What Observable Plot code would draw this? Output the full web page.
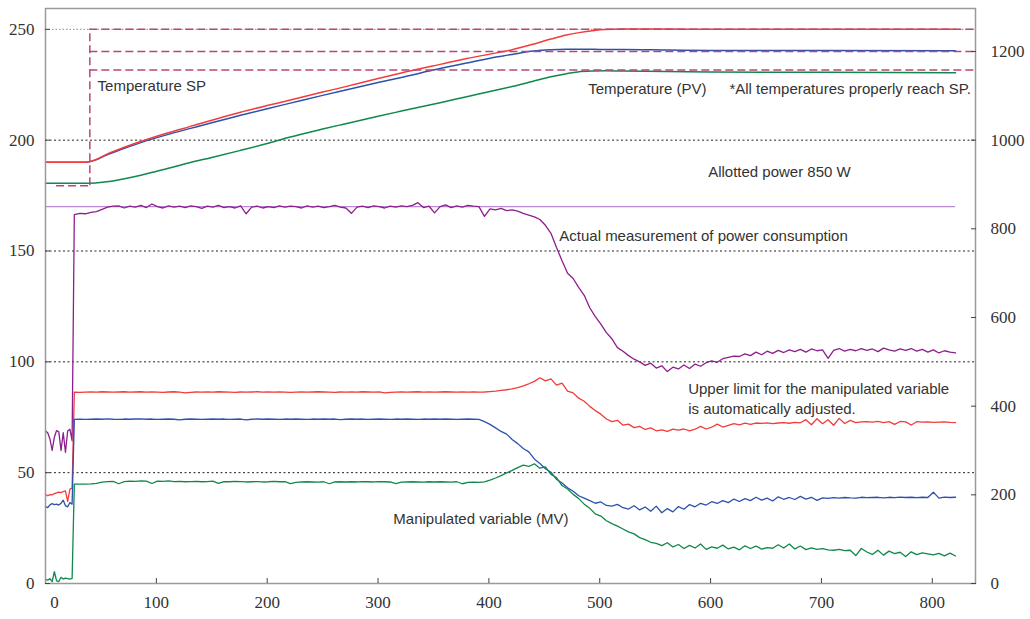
<!DOCTYPE html>
<html><head><meta charset="utf-8">
<script src="https://cdn.jsdelivr.net/npm/d3@7"></script>
<script src="https://cdn.jsdelivr.net/npm/@observablehq/plot@0.6"></script>
<style>
html,body{margin:0;padding:0;background:#fff;}
#chart svg{display:block;}
#chart svg g[aria-label*="tick label"], #chart svg g[aria-label*="tick label"] text {font-family: "Liberation Serif", "Times New Roman", serif !important; font-size: 17px !important;}
</style>
</head><body><div id="chart"></div>
<script>
// ---------- Temperature (left axis, °C) ----------
const tempTime  = [0, 35, 45, 55, 70, 86, 110, 130, 150, 176, 200, 220, 250, 267, 300, 320, 357, 380, 408, 421, 440, 456, 470, 480, 495, 505, 520, 560, 600, 700, 821];
const tempRed   = [190, 190, 191.2, 193.6, 196.6, 199.4, 203.2, 206.1, 209.0, 212.6, 215.6, 218.0, 221.7, 223.7, 227.8, 230.2, 234.3, 236.8, 239.5, 240.8, 243.3, 245.6, 247.4, 248.4, 249.5, 249.9, 250.1, 250.1, 250.0, 250.0, 250.0];
const tempBlue  = [190, 190, 191.0, 193.3, 196.1, 198.9, 202.5, 205.2, 207.9, 211.2, 214.2, 216.6, 220.2, 222.2, 226.0, 228.2, 232.4, 234.8, 237.6, 238.7, 240.2, 240.8, 241.0, 241.0, 241.0, 240.9, 240.9, 240.7, 240.5, 240.4, 240.3];
const tempGreen = [180.6, 180.6, 180.7, 181.2, 182.5, 184.2, 187.2, 189.8, 192.2, 195.4, 198.5, 201.3, 205.0, 207.0, 210.8, 213.0, 217.0, 219.6, 222.7, 224.2, 226.6, 228.6, 230.0, 230.8, 231.2, 231.3, 231.2, 231.0, 230.8, 230.6, 230.4];

// Temperature set points
const spStartTime = 10;
const spStepTime = 40;
const spEndTime = 839;
const spBefore = 179.4;             // visible pre-step SP
const spTargets = [250, 240, 231.7]; // SP after step

// ---------- Power (right axis, W) & MV (left axis, %) ----------
const allottedPower = 850;
const mvTimePre = [0, 2, 4, 6, 8, 10, 12, 14, 16, 18, 20, 22, 24];
const mvTimePost = d3.range(26, 822, 5); // 26 ... 821

const powerPre = [344, 340, 326, 300, 330, 345, 342, 300, 340, 296, 344, 348, 322];
const powerPost = [
  832, 835, 834, 837, 839, 844, 849, 851, 852, 847,
  851, 849, 853, 848, 856, 850, 847, 852, 849, 851,
  848, 852, 850, 846, 851, 849, 853, 848, 850, 847,
  852, 834, 849, 851, 847, 850, 848, 852, 849, 851,
  850, 847, 852, 849, 851, 848, 850, 853, 849, 847,
  835, 849, 851, 848, 852, 850, 847, 851, 849, 852,
  850, 853, 859, 848, 851, 836, 850, 854, 848, 852,
  849, 853, 851, 850, 828, 845, 843, 846, 841, 843,
  840, 835, 831, 827, 821, 808, 790, 758, 728, 700,
  688, 668, 650, 622, 602, 585, 566, 552, 532, 524,
  514, 506, 500, 492, 497, 486, 491, 478, 488, 484,
  493, 485, 495, 490, 498, 502, 499, 507, 510, 513,
  512, 518, 514, 522, 516, 524, 519, 526, 521, 527,
  523, 528, 522, 529, 525, 527, 508, 526, 530, 524,
  528, 525, 530, 526, 529, 523, 531, 527, 524, 529,
  526, 530, 524, 528, 522, 527, 520, 525, 522, 520
];

const mvLimitPre = [40.3, 39.6, 40.1, 40.0, 40.6, 40.9, 41.2, 41.0, 41.5, 41.8, 37.0, 42.6, 43.0];
const mvLimitPost = [
  86.3, 86.2, 86.3, 86.4, 86.3, 86.5, 86.4, 86.3, 86.4, 86.5,
  86.3, 86.4, 86.5, 86.3, 86.4, 86.3, 86.2, 86.4, 86.5, 86.3,
  86.0, 86.2, 86.4, 86.3, 86.4, 86.3, 86.5, 86.4, 86.3, 86.2,
  86.4, 86.3, 86.4, 86.5, 86.3, 86.4, 86.3, 86.4, 86.3, 86.2,
  86.3, 86.4, 86.3, 86.4, 86.5, 86.4, 86.3, 86.2, 86.4, 86.3,
  86.4, 86.3, 86.5, 86.4, 86.3, 86.4, 86.0, 86.2, 86.3, 86.4,
  86.3, 86.4, 86.5, 86.3, 86.4, 86.3, 86.4, 86.5, 86.4, 86.3,
  86.4, 86.3, 86.4, 86.3, 86.4, 86.6, 86.8, 87.1, 87.4, 87.8,
  88.4, 89.2, 90.1, 91.2, 92.8, 91.4, 92.3, 89.5, 90.4, 86.8,
  86.0, 83.6, 82.2, 79.9, 78.0, 76.4, 74.2, 73.0, 73.6, 71.4,
  71.9, 70.3, 70.9, 69.5, 70.2, 68.9, 69.3, 68.6, 69.6, 69.2,
  69.7, 68.9, 69.6, 70.9, 69.7, 70.5, 71.9, 70.6, 71.3, 72.1,
  71.6, 72.3, 71.8, 72.4, 72.2, 72.5, 72.1, 72.4, 72.6, 72.3,
  72.7, 72.5, 73.9, 71.6, 74.3, 72.1, 73.9, 71.4, 74.5, 72.2,
  73.6, 72.6, 72.9, 73.0, 72.8, 73.1, 72.6, 73.0, 71.8, 73.1,
  72.9, 71.5, 73.0, 72.8, 72.9, 72.7, 72.8, 72.9, 72.7, 72.6
];

const mvBluePre = [34.7, 34.2, 35.5, 36.0, 35.6, 35.8, 35.4, 36.2, 37.6, 35.1, 34.6, 36.5, 35.8];
const mvBluePost = [
  74.0, 74.1, 74.0, 74.1, 74.2, 74.1, 74.3, 74.1, 74.0, 74.2,
  74.1, 74.2, 74.3, 74.1, 74.2, 74.0, 74.1, 74.2, 74.1, 73.8,
  74.1, 74.2, 74.1, 74.0, 74.1, 74.2, 74.1, 74.2, 74.0, 74.1,
  74.2, 73.8, 74.1, 74.2, 74.1, 74.2, 74.1, 74.0, 74.2, 74.1,
  74.2, 74.1, 74.0, 74.2, 74.1, 74.2, 74.1, 74.2, 73.9, 74.1,
  74.2, 74.1, 74.2, 74.0, 74.1, 74.2, 74.1, 74.0, 74.2, 74.1,
  74.2, 74.1, 74.0, 74.2, 74.1, 74.2, 74.1, 74.2, 74.1, 74.0,
  74.1, 74.2, 74.1, 74.0, 73.0, 71.8, 70.2, 68.6, 67.4, 65.0,
  63.1, 60.9, 59.4, 56.2, 54.1, 51.8, 50.2, 47.0, 45.3, 43.2,
  41.6, 39.6, 38.5, 37.4, 36.2, 36.8, 35.2, 34.9, 35.7, 34.2,
  33.6, 35.1, 33.2, 34.5, 32.6, 34.9, 31.9, 33.8, 32.3, 34.7,
  33.5, 35.6, 34.6, 36.2, 35.4, 36.9, 36.1, 37.4, 36.5, 38.1,
  37.0, 38.3, 37.4, 38.9, 37.6, 38.5, 37.2, 39.1, 38.0, 38.8,
  37.9, 39.3, 38.1, 38.9, 37.5, 38.6, 38.4, 38.7, 38.5, 38.8,
  38.6, 38.5, 38.9, 38.7, 38.8, 38.9, 38.6, 38.9, 38.7, 39.0,
  38.8, 38.9, 38.7, 38.9, 38.8, 41.2, 38.5, 39.0, 38.8, 38.9
];

const mvGreenPre = [1.9, 1.5, 2.2, 0.8, 5.3, 1.2, 0.9, 2.8, 2.0, 2.4, 2.2, 2.0, 2.3];
const mvGreenPost = [
  44.8, 44.8, 44.8, 44.9, 45.2, 45.7, 46.0, 46.1, 45.0, 46.0,
  46.2, 46.1, 46.3, 46.2, 45.1, 46.2, 46.1, 46.3, 46.0, 46.1,
  45.9, 46.0, 46.1, 45.9, 46.0, 46.2, 45.2, 46.0, 45.9, 46.1,
  46.0, 45.8, 45.9, 46.0, 45.8, 45.9, 46.1, 45.9, 46.0, 45.1,
  45.6, 45.8, 45.9, 45.8, 45.7, 45.9, 45.0, 45.8, 45.9, 45.8,
  45.9, 45.8, 46.0, 45.9, 45.8, 46.0, 45.9, 45.8, 45.1, 45.7,
  45.8, 45.9, 45.8, 45.7, 45.9, 45.8, 45.9, 45.8, 45.7, 45.9,
  45.0, 45.6, 45.7, 45.6, 45.8, 46.6, 47.6, 48.7, 49.9, 51.0,
  52.3, 53.4, 52.8, 54.0, 52.0, 52.6, 49.2, 47.8, 44.2, 42.6,
  40.2, 38.3, 35.8, 33.9, 31.4, 30.4, 28.3, 27.0, 25.9, 24.6,
  23.3, 22.4, 20.7, 19.8, 18.6, 18.1, 17.1, 18.4, 16.5, 17.6,
  15.8, 17.2, 16.0, 17.8, 15.4, 16.5, 15.9, 17.3, 15.6, 16.4,
  15.2, 17.0, 15.8, 16.9, 15.5, 16.2, 15.9, 17.5, 16.0, 17.8,
  15.6, 16.9, 15.3, 16.1, 15.4, 15.7, 15.2, 15.0, 15.4, 14.8,
  15.0, 12.6, 15.8, 14.2, 13.1, 15.0, 12.8, 14.6, 13.5, 14.1,
  12.2, 14.3, 13.0, 13.8, 13.4, 12.9, 13.6, 12.5, 13.7, 12.4
];

// ---------- Axes ----------
const xTicks = [100, 200, 300, 400, 500, 600, 700, 800];
const leftTicks = [0, 50, 100, 150, 200, 250];
const rightTicksW = [0, 200, 400, 600, 800, 1000, 1200];
const gridLevels = [50, 100, 150, 200];
const wattsPerUnit = 5; // right axis W = 5 x left axis

// ---------- Annotations ----------
const annotations = [
  {text: "Temperature SP", t: 47, v: 224.4},
  {text: "Temperature (PV)", t: 489.6, v: 223.0},
  {text: "*All temperatures properly reach SP.", t: 617, v: 223.0},
  {text: "Allotted power 850 W", t: 597.8, v: 185.6},
  {text: "Actual measurement of power consumption", t: 463.5, v: 156.8},
  {text: "Upper limit for the manipulated variable", t: 579.8, v: 87.8},
  {text: "is automatically adjusted.", t: 579.8, v: 78.7},
  {text: "Manipulated variable (MV)", t: 313.8, v: 29.2}
];

// ---------- Build rows ----------
const mvTime = mvTimePre.concat(mvTimePost);
const rowsOf = (time, vals) => time.map((t, i) => ({t, v: vals[i]}));
const powerRows = rowsOf(mvTime, powerPre.concat(powerPost));
const limitRows = rowsOf(mvTime, mvLimitPre.concat(mvLimitPost));
const blueRows = rowsOf(mvTime, mvBluePre.concat(mvBluePost));
const greenRows = rowsOf(mvTime, mvGreenPre.concat(mvGreenPost));
const tempRows = tempTime.map((t, i) => ({t, red: tempRed[i], blue: tempBlue[i], green: tempGreen[i]}));
const tEnd = d3.max(mvTime);

const RED = "#f23b3b", BLUE = "#2b52ad", GREEN = "#10884a", PURPLE = "#8c1f8c";
const SPC = "#b8467c", ALLOT = "#b98bd6";
const sans = "'Liberation Sans', Arial, sans-serif";
const serif = "'Liberation Serif', 'Times New Roman', serif";
const tickFont = {fontFamily: serif, fontSize: 17, fill: "#333"};

const plot = Plot.plot({
  width: 1030, height: 619,
  marginLeft: 45, marginRight: 55, marginTop: 8, marginBottom: 36,
  x: {domain: [0, 839], label: null},
  y: {domain: [0, 259.4], label: null},
  style: {fontFamily: serif, fontSize: "17px", color: "#333", background: "#fff"},
  marks: [
    Plot.ruleY(gridLevels, {stroke: "#222", strokeWidth: 1, strokeDasharray: "2,2.5"}),
    Plot.ruleY([250], {stroke: "#888", strokeWidth: 1, strokeDasharray: "1.5,2"}),
    Plot.ruleY([{y: allottedPower / wattsPerUnit, x1: 0, x2: tEnd}], {y: "y", x1: "x1", x2: "x2", stroke: ALLOT, strokeWidth: 1.3}),
    Plot.line(powerRows, {x: "t", y: d => d.v / wattsPerUnit, stroke: PURPLE, strokeWidth: 1.3}),
    Plot.line(limitRows, {x: "t", y: "v", stroke: RED, strokeWidth: 1.3}),
    Plot.line(blueRows, {x: "t", y: "v", stroke: BLUE, strokeWidth: 1.3}),
    Plot.line(greenRows, {x: "t", y: "v", stroke: GREEN, strokeWidth: 1.3}),
    Plot.line(tempRows, {x: "t", y: "green", stroke: GREEN, strokeWidth: 1.5, curve: "monotone-x"}),
    Plot.line(tempRows, {x: "t", y: "blue", stroke: BLUE, strokeWidth: 1.5, curve: "monotone-x"}),
    Plot.line(tempRows, {x: "t", y: "red", stroke: RED, strokeWidth: 1.5, curve: "monotone-x"}),
    // set points
    Plot.ruleY(spTargets.map(v => ({y: v, x1: spStepTime, x2: spEndTime})), {y: "y", x1: "x1", x2: "x2", stroke: SPC, strokeWidth: 1.5, strokeDasharray: "8,4"}),
    Plot.ruleY([{y: spBefore, x1: spStartTime, x2: spStepTime}], {y: "y", x1: "x1", x2: "x2", stroke: SPC, strokeWidth: 1.5, strokeDasharray: "8,4"}),
    Plot.ruleX([{x: spStepTime, y1: spBefore, y2: d3.max(spTargets)}], {x: "x", y1: "y1", y2: "y2", stroke: SPC, strokeWidth: 1.5, strokeDasharray: "8,4"}),
    Plot.frame({stroke: "#9a9a9a", strokeWidth: 1.5}),
    // axes
    Plot.axisY({anchor: "left", ticks: leftTicks, tickSize: 0, tickPadding: 11, label: null, ...tickFont}),
    Plot.axisY({anchor: "left", ticks: leftTicks, tickSize: 5, dx: 5, tickFormat: () => "", label: null, stroke: "#444"}),
    Plot.axisY({anchor: "right", ticks: rightTicksW.map(w => w / wattsPerUnit), tickFormat: d => String(Math.round(d * wattsPerUnit)), tickSize: 0, tickPadding: 15, label: null, ...tickFont}),
    Plot.axisY({anchor: "right", ticks: rightTicksW.map(w => w / wattsPerUnit), tickSize: 5, dx: -5, tickFormat: () => "", label: null, stroke: "#444"}),
    Plot.axisX({ticks: xTicks, tickSize: 0, tickPadding: 12, label: null, ...tickFont}),
    Plot.axisX({ticks: [0], tickSize: 0, tickPadding: 12, dx: 9, label: null, ...tickFont}),
    Plot.axisX({ticks: xTicks, tickSize: 5, dy: -5, tickFormat: () => "", label: null, stroke: "#444"}),
    // annotations
    Plot.text(annotations, {x: "t", y: "v", text: "text", textAnchor: "start", fontFamily: sans, fontSize: 15, fill: "#333"})
  ]
});
document.getElementById("chart").appendChild(plot);
</script></body></html>
